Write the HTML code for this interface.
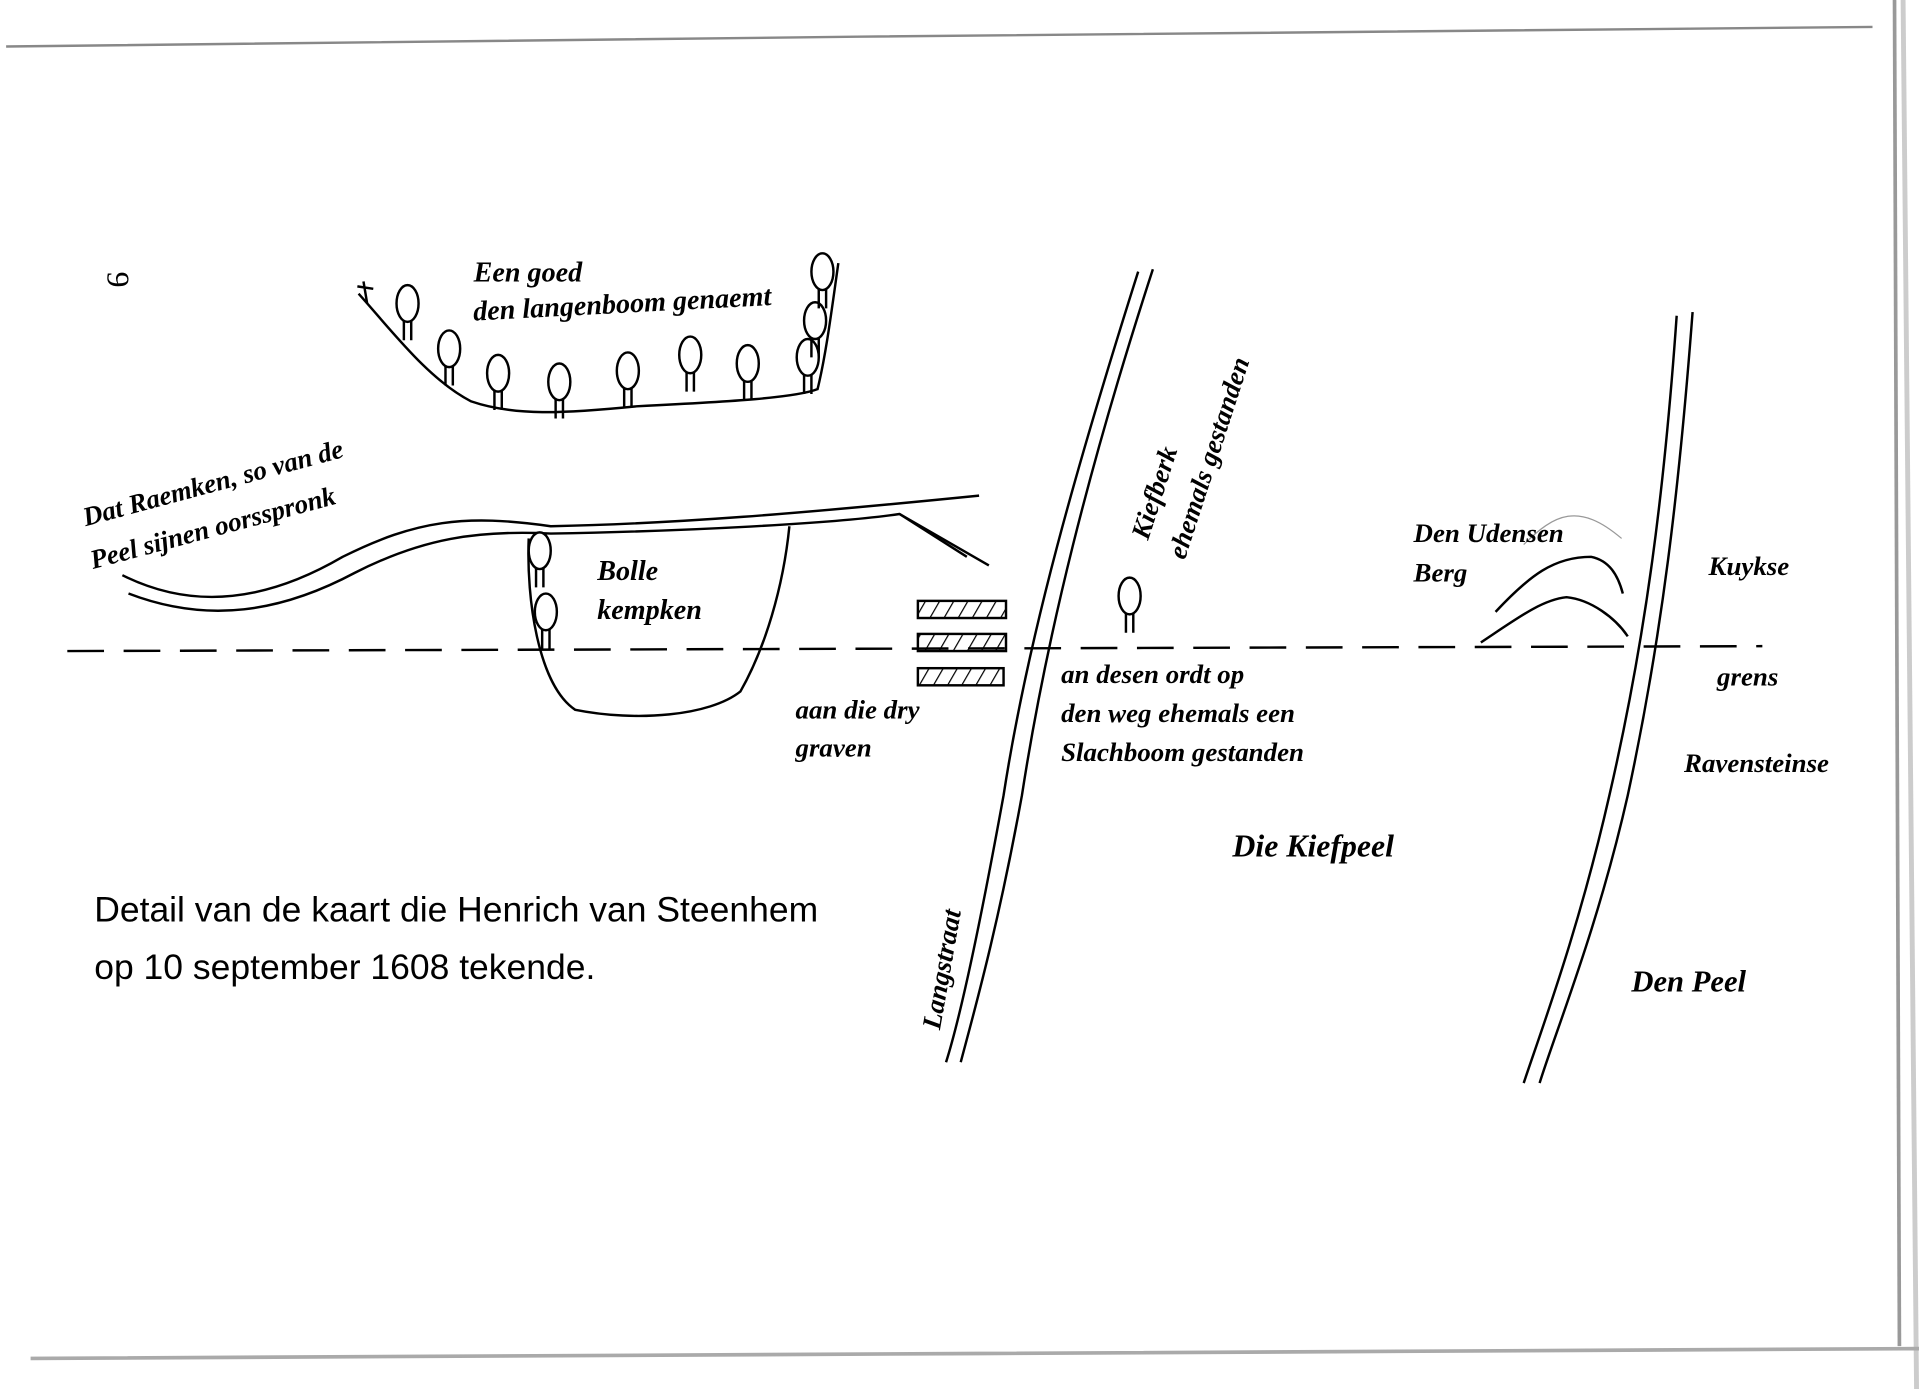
<!DOCTYPE html>
<html><head><meta charset="utf-8"><style>
html,body{margin:0;padding:0;background:#fff;}
svg{display:block;}
text{font-family:"Liberation Serif",serif;font-weight:bold;font-style:italic;fill:#000;}
.s{font-family:"Liberation Sans",sans-serif;font-style:normal;font-weight:normal;}
</style></head><body>
<svg width="1919" height="1389" viewBox="0 0 1568 1135" preserveAspectRatio="none" xmlns="http://www.w3.org/2000/svg">
<defs>
<pattern id="h" width="10" height="10" patternUnits="userSpaceOnUse" patternTransform="rotate(30)"><line x1="0" y1="0" x2="0" y2="10" stroke="#000" stroke-width="2"/></pattern>
<g id="t"><ellipse cx="0" cy="0" rx="9" ry="15"/><path d="M-3 14 L-3 30 M3 14 L3 30"/></g>
</defs>
<rect width="1568" height="1135" fill="#fff"/>
<path d="M5 38 L700 30 L1530 22" stroke="#888" stroke-width="2" fill="none"/>
<path d="M1548 0 L1552 1100" stroke="#999" stroke-width="3" fill="none"/>
<path d="M1555 0 L1566 1135" stroke="#ccc" stroke-width="4" fill="none"/>
<path d="M25 1110 L800 1106 L1568 1102" stroke="#aaa" stroke-width="3" fill="none"/>
<text x="0" y="0" font-size="26" transform="translate(88,222) rotate(90)" style="font-style:normal;font-weight:normal">9</text>

<g stroke="#000" fill="none" stroke-width="2">
<path d="M293 240 C320 270 350 310 385 328 C420 340 460 338 520 332 C600 328 650 325 668 318 C675 290 680 250 685 215"/>
<path d="M100 470 C160 500 220 490 280 455 C340 425 380 420 450 430 C550 428 650 420 800 405"/>
<path d="M105 485 C170 510 230 500 290 468 C345 440 390 433 450 436 C560 434 680 428 735 420 L808 462"/>
<path d="M735 420 L790 455"/>
<path d="M432 440 C430 490 440 560 470 580 C520 590 580 585 605 565 C625 530 640 480 645 430"/>
<path d="M930 222 C880 380 840 520 820 650 C800 760 785 830 773 868"/>
<path d="M942 220 C890 380 855 520 835 650 C815 760 795 830 785 868"/>
<path d="M1370 258 C1360 400 1345 520 1315 650 C1290 760 1260 840 1245 885"/>
<path d="M1383 255 C1372 400 1358 520 1330 650 C1305 760 1272 840 1258 885"/>
<path d="M1210 525 C1240 505 1260 490 1280 488 C1300 490 1320 505 1330 520"/>
<path d="M1222 500 C1250 470 1270 455 1300 455 C1315 458 1322 470 1326 485"/>
<path d="M1245 445 C1270 420 1290 410 1325 440" stroke="#999" stroke-width="1"/>
</g>
<path d="M55 532 L1440 528" stroke="#000" stroke-width="2" stroke-dasharray="30 16" fill="none"/>
<g stroke="#000" stroke-width="2" fill="url(#h)">
<rect x="750" y="491" width="72" height="14"/>
<rect x="750" y="518" width="72" height="14"/>
<rect x="750" y="546" width="70" height="14"/>
</g>
<g stroke="#000" stroke-width="2" fill="#fff">
<use href="#t" x="333" y="248"/><use href="#t" x="367" y="285"/><use href="#t" x="407" y="305"/>
<use href="#t" x="457" y="312"/><use href="#t" x="513" y="303"/><use href="#t" x="564" y="290"/>
<use href="#t" x="611" y="297"/><use href="#t" x="660" y="292"/><use href="#t" x="666" y="262"/>
<use href="#t" x="672" y="222"/><use href="#t" x="441" y="450"/><use href="#t" x="446" y="500"/>
<use href="#t" x="923" y="487"/>
</g>
<path d="M297 230 L300 248 M292 234 L305 236" stroke="#000" stroke-width="2"/>
<text x="387" y="230" font-size="23">Een goed</text>
<text x="387" y="262" font-size="23" transform="rotate(-3 387 262)">den langenboom genaemt</text>
<text x="70" y="430" font-size="22" transform="rotate(-15 70 430)">Dat Raemken, so van de</text>
<text x="76" y="465" font-size="22" transform="rotate(-15 76 465)">Peel sijnen oorsspronk</text>
<text x="488" y="474" font-size="23">Bolle</text>
<text x="488" y="506" font-size="23">kempken</text>
<text x="650" y="587" font-size="22">aan die dry</text>
<text x="650" y="618" font-size="22">graven</text>
<text x="867" y="558" font-size="22">an desen ordt op</text>
<text x="867" y="590" font-size="22">den weg ehemals een</text>
<text x="867" y="622" font-size="22">Slachboom gestanden</text>
<text x="0" y="0" font-size="22" transform="translate(938,442) rotate(-72)">Kiefberk</text>
<text x="0" y="0" font-size="22" transform="translate(968,458) rotate(-72)">ehemals gestanden</text>
<text x="1155" y="443" font-size="22">Den Udensen</text>
<text x="1155" y="475" font-size="22">Berg</text>
<text x="1396" y="470" font-size="22">Kuykse</text>
<text x="1403" y="560" font-size="22">grens</text>
<text x="1376" y="631" font-size="22">Ravensteinse</text>
<text x="1007" y="700" font-size="26">Die Kiefpeel</text>
<text x="1333" y="810" font-size="25">Den Peel</text>
<text x="0" y="0" font-size="22" transform="translate(768,842) rotate(-80)">Langstraat</text>
<text class="s" x="77" y="753" font-size="29">Detail van de kaart die Henrich van Steenhem</text>
<text class="s" x="77" y="800" font-size="29">op 10 september 1608 tekende.</text>
</svg>
</body></html>
